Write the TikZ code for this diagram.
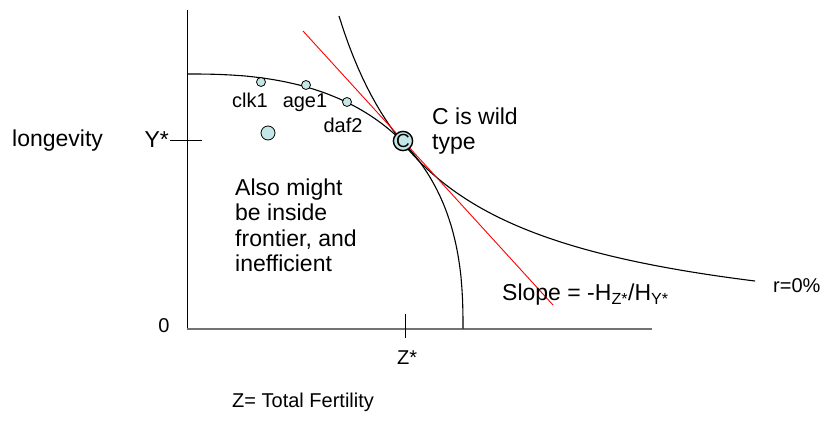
\documentclass[tikz,border=0pt]{standalone}
\usepackage{fontspec}
\setmainfont{Liberation Sans}
\usetikzlibrary{positioning, calc}
\definecolor{dotblue}{RGB}{196,230,230}
\begin{document}
\begin{tikzpicture}[
    x=1pt, y=-1pt,
    big/.style={font=\fontsize{23}{25.5}\selectfont, inner sep=0pt},
    lbl/.style={font=\fontsize{20}{22}\selectfont, inner sep=0pt},
    mut/.style={circle, draw=black, fill=dotblue, minimum size=#1,
                inner sep=0pt, line width=0.8pt},
    mut/.default=9pt,
    curve/.style={black, line width=1.1pt},
    yaxis/.style={black, line width=0.9pt},
    xaxis/.style={black!55, line width=1.8pt},
    tickmark/.style={black, line width=0.9pt},
    tangent/.style={red, line width=0.9pt}
  ]
  \useasboundingbox (0,0) rectangle (825,427);

  % axes
  \coordinate (O)    at (187,329);
  \coordinate (ytop) at (187,10);
  \coordinate (xend) at (652,329);
  \draw[yaxis] (O) -- (ytop);
  \draw[xaxis] (O) -- (xend);

  % ticks
  \coordinate (yt1) at (170,140);
  \coordinate (yt2) at (202,140);
  \coordinate (zt1) at (405,314);
  \coordinate (zt2) at (405,338);
  \draw[tickmark] (yt1) -- (yt2);
  \draw[tickmark] (zt1) -- (zt2);

  % frontier
  \draw[curve] plot[domain=0.02:89.98, samples=120]
        ({187+276*cos(\x)^0.8}, {329-255*sin(\x)^0.8});

  % r=0% curve
  \draw[curve] plot[domain=339:755, samples=90]
        (\x, {346-336.55/((\x-237)/100)});

  % slope line
  \coordinate (s1) at (303,31);
  \coordinate (s2) at (553,305);
  \draw[tangent] (s1) -- (s2);

  % mutants
  \foreach \n/\px/\py/\t/\lx/\ly in {clk/261/82/clk1/250/108,
                                     age/306/85/age1/305/108,
                                     daf/347/102/daf2/343/133}{
    \node[mut] (\n) at (\px,\py) {};
    \node[lbl, anchor=base] (\n-lbl) at (\lx,\ly) {\t};
  }
  \node[mut=14pt] (ineff) at (268,133) {};
  \node[mut=19pt, line width=1.4pt, font=\fontsize{19}{19}\selectfont]
        (wt) at (403,141) {C};

  % texts
  \node[big, align=left, anchor=north west] (wt-lbl) at (432,107.5)
        {C is wild\\type};
  \node[big, align=left, anchor=north west] (note) at (235,178.5)
        {Also might\\be inside\\frontier, and\\inefficient};
  \node[big, anchor=base west] (ylong) at (12,147) {longevity};
  \node[big, anchor=base east] (ystar) at (169,148) {Y*};
  \node[lbl, anchor=base] (zero) at (164,333) {0};
  \node[lbl, anchor=base west] (zstar) at (397,365) {Z*};
  \node[lbl, anchor=base west] (zlab) at (232,408) {Z= Total Fertility};
  \node[big, anchor=base west] (slope) at (502,301)
        {Slope = -H\textsubscript{Z*}/H\textsubscript{Y*}};
  \node[lbl, anchor=base west] (rate) at (773,293) {r=0\%};

\end{tikzpicture}
\end{document}
